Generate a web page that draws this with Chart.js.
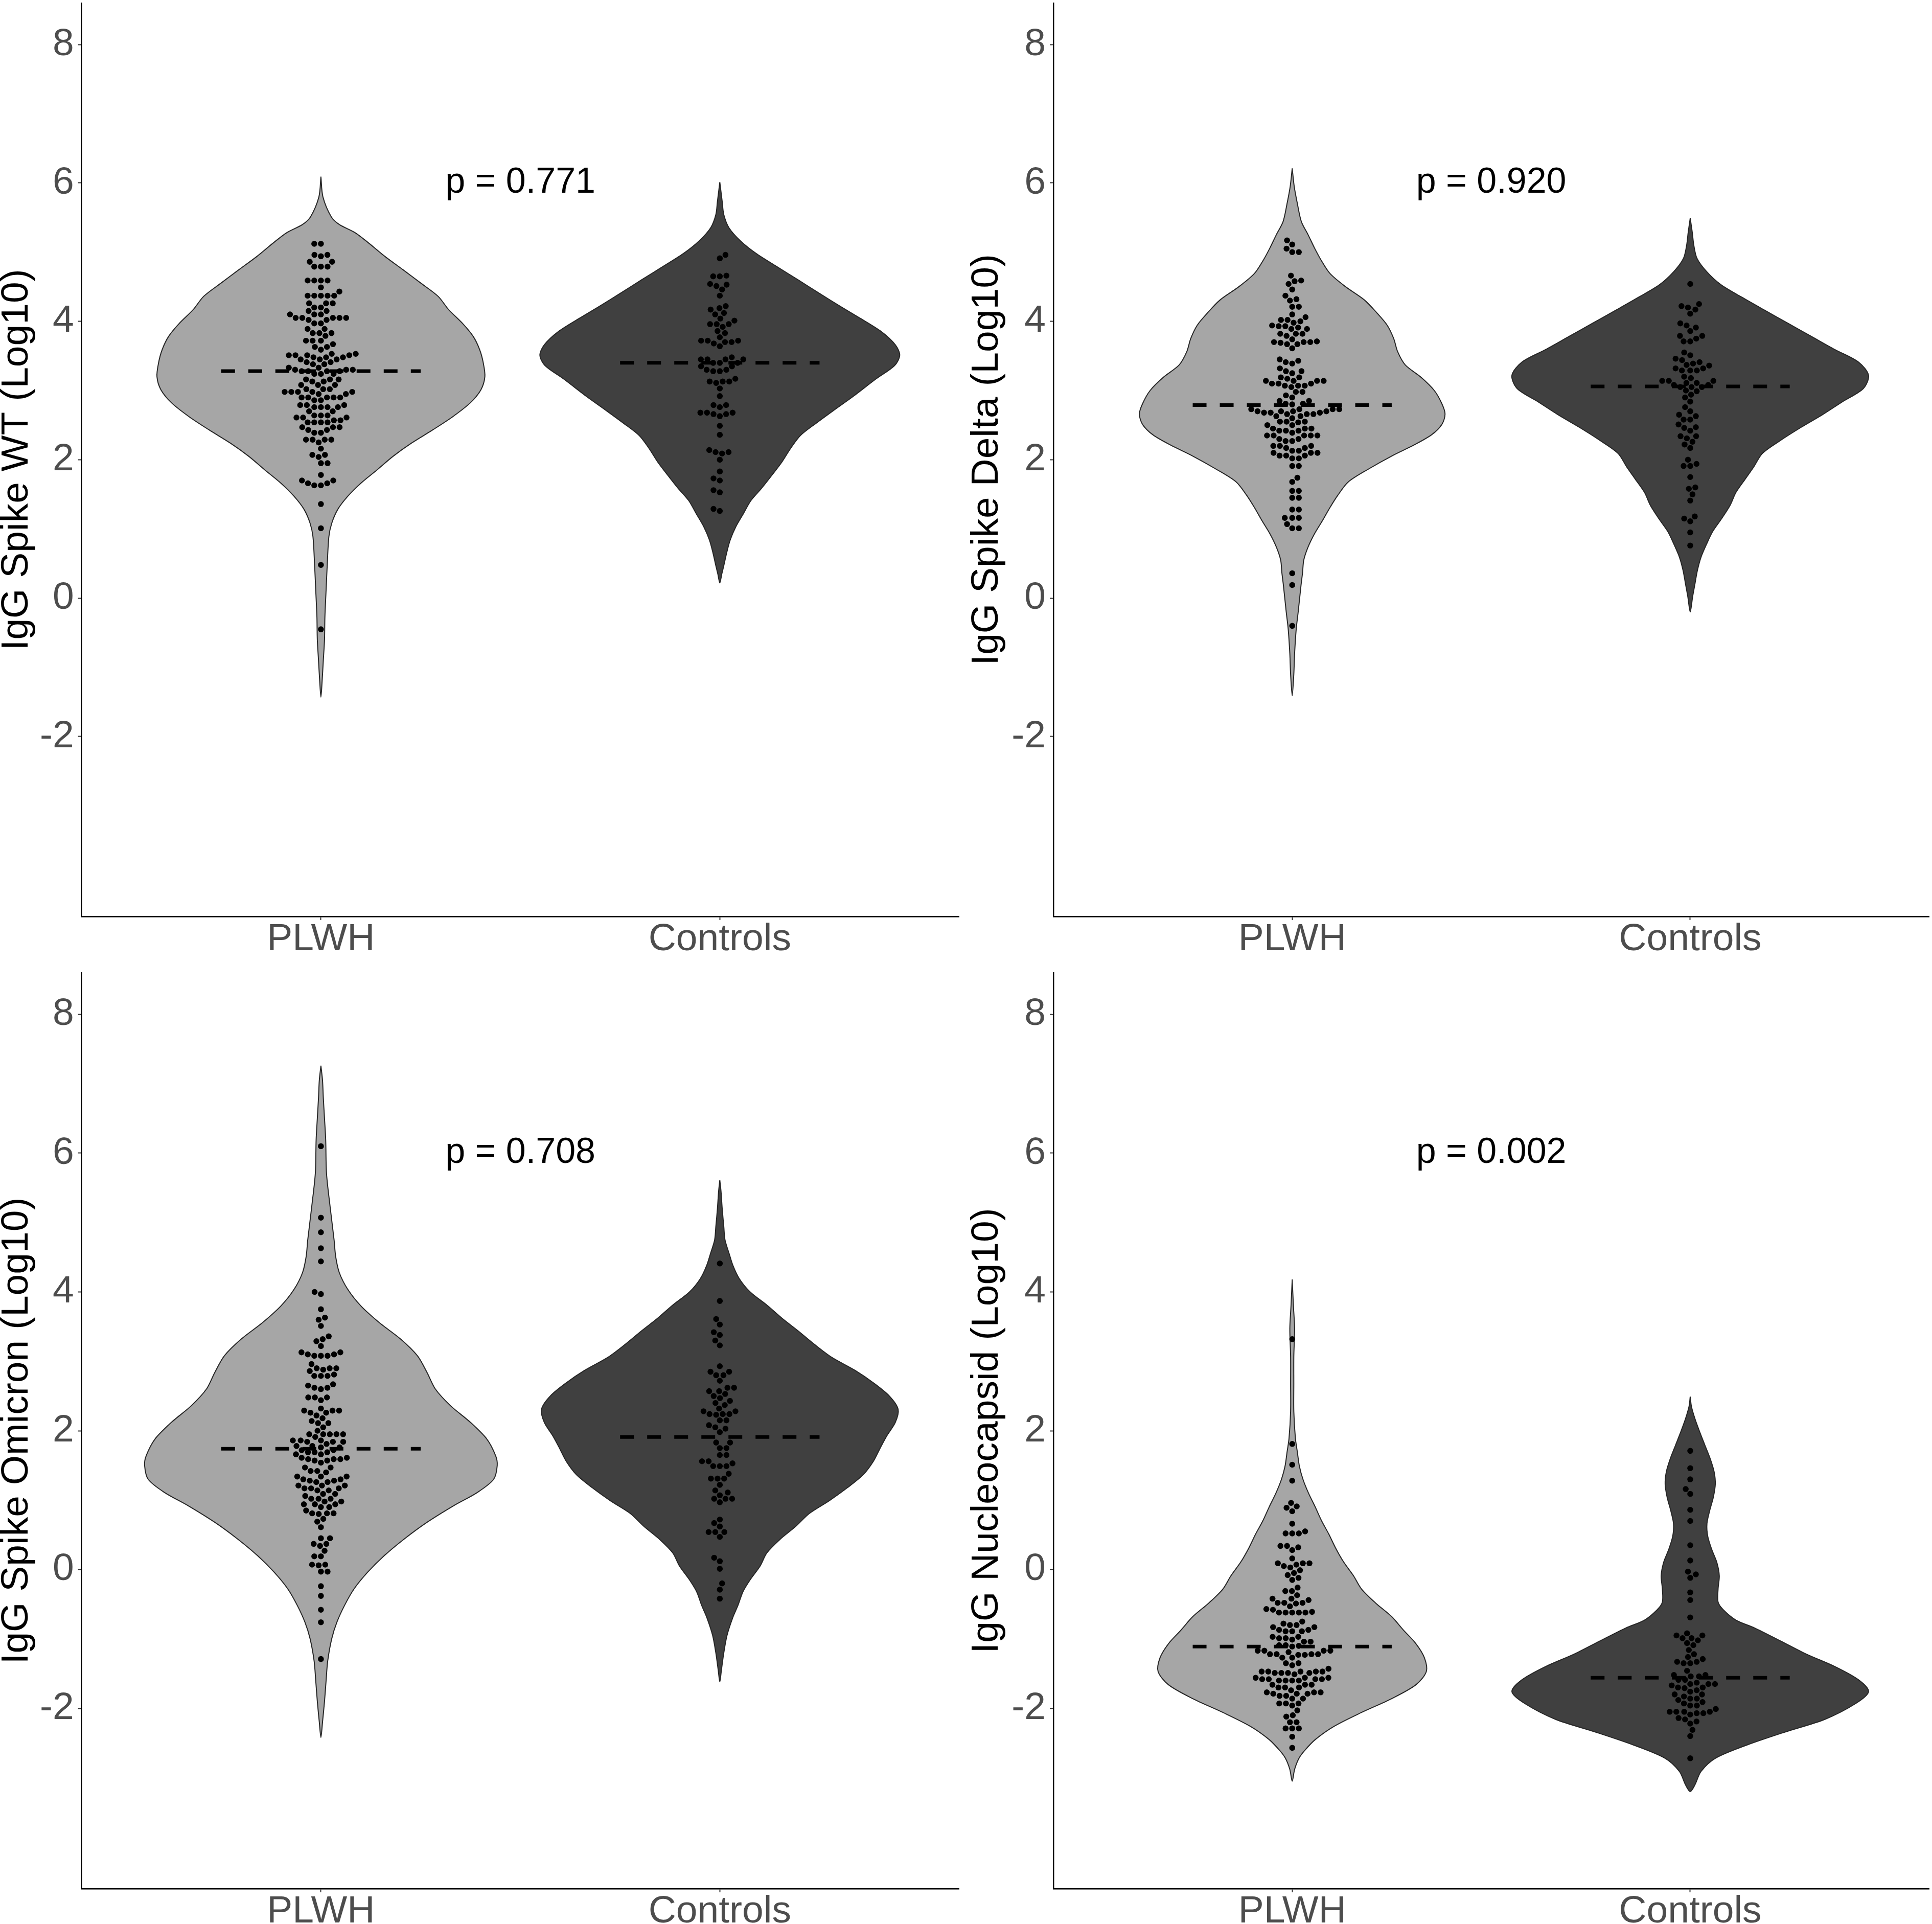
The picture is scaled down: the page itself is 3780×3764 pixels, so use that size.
<!DOCTYPE html>
<html>
<head>
<meta charset="utf-8">
<script src="https://cdn.jsdelivr.net/npm/chart.js@4.4.1/dist/chart.umd.min.js"></script>
<style>
html,body{margin:0;padding:0;background:#fff;}
#wrap{position:relative;width:3780px;height:3764px;overflow:hidden;background:#fff;}
canvas{position:absolute;display:block;}
</style>
</head>
<body>
<div id="wrap">
<canvas id="c0" width="1890" height="1890" style="left:0px;top:0px;width:1890px;height:1890px"></canvas>
<canvas id="c1" width="1890" height="1890" style="left:1890px;top:0px;width:1890px;height:1890px"></canvas>
<canvas id="c2" width="1890" height="1874" style="left:0px;top:1890px;width:1890px;height:1874px"></canvas>
<canvas id="c3" width="1890" height="1874" style="left:1890px;top:1890px;width:1890px;height:1874px"></canvas>
</div>
<script>
// ---------------- DATA ----------------
const categories = ['PLWH', 'Controls'];
const yTickValues = [-2, 0, 2, 4, 6, 8];
const yTitles = ['IgG Spike WT (Log10)', 'IgG Spike Delta (Log10)', 'IgG Spike Omicron (Log10)', 'IgG Nucleocapsid (Log10)'];
const pTexts = ['p = 0.771', 'p = 0.920', 'p = 0.708', 'p = 0.002'];
const pLabelX = 1.5;
const pLabelY = 6;
const mediansPLWH = [3.28, 2.79, 1.74, -1.11];
const mediansControls = [3.40, 3.06, 1.91, -1.56];

// individual observations (log10)
const wtPLWH = [5.12,5.12,4.96,4.96,4.94,4.86,4.86,4.79,4.79,4.79,4.59,4.59,4.59,4.59,4.49,4.43,4.37,4.37,4.37,4.37,4.37,
  4.26,4.26,4.26,4.20,4.20,4.15,4.15,4.10,4.10,4.10,4.05,4.05,4.05,4.05,4.05,4.02,4.02,3.97,3.97,3.89,3.89,3.83,3.83,3.83,
  3.79,3.72,3.72,3.72,3.67,3.63,3.63,3.59,3.53,3.53,3.51,3.51,3.51,3.51,3.48,3.48,3.48,3.45,3.45,3.45,3.41,3.41,3.38,3.38,
  3.33,3.33,3.30,3.30,3.30,3.28,3.28,3.28,3.28,3.24,3.24,3.24,3.16,3.16,3.16,3.13,3.13,3.08,3.08,3.08,3.02,3.02,3.02,
  2.98,2.98,2.98,2.98,2.98,2.95,2.95,2.90,2.90,2.90,2.90,2.90,2.86,2.86,2.79,2.79,2.79,2.76,2.76,2.76,2.76,2.70,2.70,
  2.64,2.64,2.64,2.61,2.61,2.61,2.57,2.57,2.54,2.54,2.54,2.54,2.47,2.47,2.47,2.43,2.43,2.39,2.39,2.29,2.29,2.29,2.29,
  2.25,2.16,2.07,2.07,2.04,1.95,1.95,1.78,1.70,1.70,1.66,1.66,1.63,1.63,1.36,1.01,0.48,-0.45];
const wtControls = [4.96,4.91,4.66,4.65,4.65,4.54,4.53,4.51,4.46,4.37,4.22,4.19,4.17,4.12,4.10,4.04,4.01,3.96,3.96,3.96,
  3.92,3.86,3.83,3.77,3.72,3.72,3.72,3.70,3.70,3.68,3.64,3.48,3.45,3.45,3.45,3.45,3.40,3.40,3.40,3.35,3.35,3.30,3.30,
  3.28,3.28,3.17,3.13,3.13,3.13,3.11,3.03,2.92,2.79,2.79,2.76,2.68,2.68,2.68,2.66,2.66,2.63,2.49,2.36,2.14,2.11,2.11,
  2.09,2.00,1.83,1.73,1.70,1.56,1.53,1.29,1.26];
const deltaPLWH = [5.17,5.11,5.05,5.00,5.00,4.66,4.59,4.58,4.54,4.46,4.37,4.32,4.30,4.21,4.21,4.10,4.06,4.02,4.02,4.00,3.98,
  3.94,3.93,3.93,3.91,3.89,3.89,3.82,3.82,3.82,3.79,3.74,3.71,3.70,3.70,3.70,3.69,3.67,3.67,3.61,3.45,3.43,3.41,3.39,
  3.32,3.28,3.28,3.25,3.19,3.19,3.17,3.14,3.14,3.14,3.14,3.10,3.10,3.10,3.07,3.07,3.07,3.05,2.98,2.98,2.93,2.90,2.85,2.85,
  2.81,2.81,2.80,2.73,2.73,2.73,2.73,2.70,2.70,2.70,2.70,2.68,2.68,2.68,2.66,2.66,2.66,2.63,2.63,2.60,2.55,2.55,2.55,2.54,
  2.50,2.50,2.45,2.45,2.45,2.42,2.42,2.42,2.39,2.35,2.35,2.35,2.35,2.35,2.30,2.30,2.27,2.27,2.20,2.20,2.20,2.17,2.17,
  2.13,2.13,2.10,2.10,2.10,2.06,2.06,2.06,2.02,2.02,1.91,1.91,1.74,1.68,1.55,1.55,1.45,1.45,1.28,1.28,1.16,1.16,1.16,
  1.07,1.01,1.01,0.36,0.19,-0.40];
const deltaControls = [4.54,4.25,4.22,4.20,4.17,4.11,3.97,3.94,3.91,3.86,3.79,3.79,3.75,3.71,3.71,3.55,3.51,3.46,3.44,
  3.41,3.39,3.37,3.36,3.32,3.32,3.29,3.29,3.29,3.20,3.18,3.14,3.14,3.14,3.11,3.11,3.08,3.08,3.05,3.05,3.05,3.00,2.99,
  2.94,2.90,2.84,2.76,2.70,2.65,2.63,2.58,2.58,2.51,2.47,2.46,2.42,2.34,2.34,2.31,2.26,2.22,2.17,2.00,1.94,1.91,1.91,
  1.75,1.60,1.58,1.50,1.41,1.18,1.15,1.11,0.95,0.76];
const omicronPLWH = [6.10,5.07,4.86,4.63,4.44,4.00,3.97,3.75,3.63,3.60,3.51,3.36,3.32,3.29,3.22,3.13,3.13,3.10,3.10,3.08,
  3.08,3.08,2.96,2.90,2.90,2.90,2.88,2.86,2.81,2.79,2.79,2.79,2.67,2.65,2.62,2.62,2.60,2.48,2.48,2.48,2.44,2.32,2.29,
  2.29,2.29,2.26,2.26,2.22,2.18,2.14,2.11,2.11,2.05,2.00,1.95,1.95,1.95,1.95,1.95,1.91,1.86,1.86,1.86,1.84,1.84,1.84,
  1.81,1.78,1.78,1.76,1.76,1.72,1.72,1.69,1.69,1.69,1.66,1.66,1.61,1.61,1.59,1.59,1.59,1.57,1.57,1.54,1.47,1.47,1.42,
  1.42,1.40,1.34,1.34,1.34,1.30,1.30,1.28,1.28,1.26,1.26,1.21,1.21,1.21,1.17,1.17,1.17,1.14,1.14,1.09,1.09,1.06,1.02,
  1.02,1.02,0.98,0.98,0.94,0.94,0.94,0.90,0.90,0.85,0.81,0.81,0.81,0.80,0.73,0.69,0.61,0.45,0.45,0.37,0.37,0.34,0.27,
  0.19,0.19,0.07,0.07,0.06,-0.03,-0.03,-0.24,-0.38,-0.58,-0.76,-1.29];
const omicronControls = [4.41,3.87,3.61,3.53,3.42,3.38,3.30,3.23,2.93,2.85,2.85,2.80,2.80,2.72,2.62,2.62,2.57,2.57,2.53,
  2.50,2.47,2.43,2.40,2.37,2.32,2.28,2.28,2.24,2.24,2.24,2.23,2.15,2.15,2.08,2.05,2.03,1.98,1.83,1.83,1.75,1.75,1.65,
  1.65,1.56,1.56,1.53,1.49,1.49,1.49,1.38,1.31,1.31,1.31,1.22,1.14,1.11,1.07,1.02,1.02,1.02,0.97,0.72,0.67,0.62,0.54,
  0.54,0.54,0.47,0.17,0.12,0.01,-0.20,-0.29,-0.42];
const ncPLWH = [3.32,1.81,1.51,1.28,0.96,0.91,0.89,0.84,0.66,0.55,0.52,0.52,0.52,0.34,0.34,0.32,0.28,0.16,0.09,0.09,0.09,
  0.07,0.05,0.03,-0.01,-0.05,-0.08,-0.12,-0.15,-0.26,-0.31,-0.31,-0.37,-0.42,-0.42,-0.44,-0.48,-0.48,-0.48,-0.49,-0.53,
  -0.57,-0.58,-0.61,-0.62,-0.62,-0.62,-0.62,-0.62,-0.75,-0.78,-0.80,-0.80,-0.83,-0.83,-0.87,-0.87,-0.89,-0.89,-0.89,
  -0.97,-0.97,-0.99,-0.99,-1.01,-1.04,-1.04,-1.09,-1.09,-1.10,-1.11,-1.17,-1.17,-1.17,-1.17,-1.19,-1.22,-1.22,-1.22,
  -1.22,-1.23,-1.23,-1.27,-1.27,-1.35,-1.35,-1.38,-1.43,-1.47,-1.47,-1.47,-1.47,-1.47,-1.49,-1.49,-1.49,-1.49,-1.51,
  -1.56,-1.56,-1.56,-1.58,-1.58,-1.58,-1.58,-1.60,-1.60,-1.60,-1.60,-1.66,-1.66,-1.66,-1.70,-1.70,-1.70,-1.74,-1.77,
  -1.77,-1.77,-1.79,-1.79,-1.79,-1.82,-1.82,-1.86,-1.86,-1.93,-1.93,-1.93,-1.96,-2.03,-2.10,-2.12,-2.20,-2.20,-2.29,
  -2.29,-2.29,-2.41,-2.57];
const ncControls = [1.71,1.46,1.30,1.16,1.09,0.86,0.70,0.35,0.13,-0.03,-0.07,-0.12,-0.33,-0.44,-0.69,-0.92,-0.95,-0.95,
  -0.99,-0.99,-1.02,-1.06,-1.09,-1.16,-1.22,-1.26,-1.29,-1.33,-1.33,-1.35,-1.35,-1.46,-1.52,-1.52,-1.54,-1.54,-1.59,
  -1.59,-1.63,-1.65,-1.65,-1.65,-1.67,-1.70,-1.70,-1.71,-1.74,-1.76,-1.80,-1.80,-1.83,-1.86,-1.86,-1.88,-1.91,-1.93,
  -1.96,-1.96,-2.01,-2.05,-2.05,-2.05,-2.05,-2.07,-2.07,-2.09,-2.14,-2.16,-2.19,-2.22,-2.31,-2.40,-2.72];

// violin outlines: level (log10) and half-width (x units)
const wtPLWH_vY = [6.09,5.80,5.51,5.40,5.28,5.13,4.94,4.74,4.55,4.36,4.17,3.97,3.78,3.59,3.40,3.20,3.01,2.82,2.62,2.43,2.24,2.05,1.85,1.66,1.47,1.28,1.08,0.89,0.50,0.12,-0.27,-0.60,-0.90,-1.20,-1.43];
const wtPLWH_vW = [0,0.005,0.026,0.046,0.086,0.120,0.160,0.207,0.251,0.294,0.320,0.355,0.382,0.398,0.407,0.411,0.401,0.374,0.330,0.280,0.227,0.181,0.140,0.100,0.067,0.042,0.027,0.020,0.016,0.013,0.010,0.009,0.006,0.003,0];
const wtCtrl_vY = [6.01,5.73,5.54,5.35,5.16,4.98,4.79,4.60,4.41,4.22,4.04,3.85,3.66,3.51,3.36,3.17,2.91,2.72,2.53,2.35,2.16,1.97,1.78,1.59,1.41,1.22,1.03,0.84,0.65,0.47,0.35,0.22];
const wtCtrl_vW = [0,0.006,0.010,0.023,0.052,0.091,0.143,0.196,0.248,0.301,0.353,0.405,0.440,0.451,0.438,0.392,0.333,0.287,0.242,0.202,0.177,0.156,0.131,0.105,0.078,0.059,0.040,0.026,0.017,0.010,0.005,0];
const deltaPLWH_vY = [6.21,5.95,5.70,5.44,5.25,5.06,4.88,4.69,4.50,4.31,4.12,3.94,3.75,3.56,3.37,3.19,3.00,2.81,2.66,2.51,2.36,2.21,2.06,1.87,1.68,1.49,1.31,1.12,0.93,0.74,0.55,0.37,0.18,-0.20,-0.45,-0.80,-1.10,-1.41];
const deltaPLWH_vW = [0,0.005,0.013,0.023,0.040,0.056,0.073,0.095,0.134,0.181,0.213,0.239,0.255,0.265,0.284,0.324,0.357,0.376,0.384,0.376,0.350,0.305,0.252,0.193,0.141,0.115,0.095,0.076,0.056,0.040,0.029,0.026,0.022,0.015,0.010,0.006,0.004,0];
const deltaCtrl_vY = [5.49,5.29,5.10,4.91,4.72,4.53,4.35,4.16,3.97,3.78,3.59,3.41,3.22,3.03,2.84,2.65,2.47,2.28,2.09,1.90,1.72,1.53,1.34,1.15,0.96,0.78,0.59,0.40,0.21,0.02,-0.20];
const deltaCtrl_vW = [0,0.005,0.009,0.017,0.041,0.077,0.129,0.187,0.246,0.305,0.364,0.423,0.448,0.435,0.383,0.332,0.279,0.227,0.181,0.160,0.138,0.115,0.100,0.079,0.056,0.041,0.027,0.018,0.012,0.006,0];
const omiPLWH_vY = [7.26,7.05,6.80,6.50,6.19,5.71,5.23,4.75,4.51,4.28,4.04,3.80,3.56,3.32,3.08,2.84,2.60,2.36,2.12,1.88,1.64,1.50,1.30,1.11,0.92,0.68,0.44,0.20,-0.04,-0.28,-0.52,-0.76,-1.00,-1.32,-1.60,-1.90,-2.20,-2.42];
const omiPLWH_vW = [0,0.004,0.006,0.009,0.012,0.014,0.023,0.033,0.037,0.046,0.067,0.100,0.146,0.200,0.242,0.266,0.287,0.325,0.375,0.416,0.438,0.442,0.433,0.392,0.333,0.266,0.209,0.159,0.117,0.083,0.059,0.040,0.027,0.017,0.013,0.009,0.004,0];
const omiCtrl_vY = [5.61,5.45,5.20,4.94,4.75,4.56,4.38,4.19,4.00,3.81,3.62,3.44,3.25,3.06,2.87,2.69,2.50,2.31,2.12,1.93,1.75,1.56,1.37,1.18,0.99,0.81,0.62,0.43,0.24,0.05,-0.14,-0.32,-0.51,-0.70,-0.95,-1.20,-1.45,-1.62];
const omiCtrl_vW = [0,0.003,0.006,0.010,0.013,0.023,0.033,0.049,0.076,0.118,0.156,0.196,0.236,0.280,0.339,0.385,0.425,0.447,0.440,0.419,0.402,0.385,0.360,0.320,0.274,0.225,0.190,0.150,0.118,0.101,0.077,0.058,0.046,0.032,0.018,0.010,0.004,0];
const ncPLWH_vY = [4.18,3.80,3.47,3.07,2.68,2.28,1.89,1.69,1.49,1.30,1.10,0.90,0.70,0.51,0.31,0.11,-0.09,-0.28,-0.48,-0.68,-0.87,-1.07,-1.27,-1.47,-1.66,-1.86,-2.06,-2.26,-2.45,-2.61,-2.72,-2.88,-3.05];
const ncPLWH_vW = [0,0.003,0.006,0.004,0.004,0.004,0.008,0.013,0.018,0.027,0.041,0.058,0.074,0.092,0.109,0.129,0.154,0.174,0.209,0.250,0.279,0.311,0.332,0.337,0.311,0.250,0.174,0.105,0.058,0.031,0.017,0.006,0];
const ncCtrl_vY = [2.49,2.35,2.17,1.98,1.79,1.60,1.41,1.23,1.04,0.85,0.66,0.48,0.29,0.10,-0.09,-0.28,-0.47,-0.58,-0.73,-0.84,-1.03,-1.22,-1.40,-1.59,-1.76,-1.93,-2.16,-2.34,-2.53,-2.72,-2.91,-3.10,-3.20];
const ncCtrl_vW = [0,0.003,0.012,0.024,0.037,0.050,0.060,0.063,0.058,0.049,0.042,0.044,0.054,0.067,0.073,0.070,0.070,0.083,0.115,0.161,0.227,0.292,0.364,0.423,0.448,0.416,0.338,0.239,0.142,0.063,0.027,0.012,0];

// ---------------- STYLE / LAYOUT ----------------
const FONT = '"Liberation Sans", Arimo, Arial, Helvetica, sans-serif';
const COL_PLWH = '#A6A6A6';
const COL_CTRL = '#404040';
const Y_MIN = -4.6, Y_MAX = 8.6, X_MIN = 0.4, X_MAX = 2.6;

const panels = [
  {id:'c0', plwh:wtPLWH, ctrl:wtControls, vp:[wtPLWH_vY, wtPLWH_vW], vc:[wtCtrl_vY, wtCtrl_vW],
   pad:{left:0, top:1, right:13.4, bottom:0}, yW:159.6, xH:97, titlePad:0},
  {id:'c1', plwh:deltaPLWH, ctrl:deltaControls, vp:[deltaPLWH_vY, deltaPLWH_vW], vc:[deltaCtrl_vY, deltaCtrl_vW],
   pad:{left:0, top:1, right:0.4, bottom:0}, yW:171, xH:97, titlePad:8},
  {id:'c2', plwh:omicronPLWH, ctrl:omicronControls, vp:[omiPLWH_vY, omiPLWH_vW], vc:[omiCtrl_vY, omiCtrl_vW],
   pad:{left:0, top:13, right:13.4, bottom:0}, yW:159.6, xH:69, titlePad:0},
  {id:'c3', plwh:ncPLWH, ctrl:ncControls, vp:[ncPLWH_vY, ncPLWH_vW], vc:[ncCtrl_vY, ncCtrl_vW],
   pad:{left:0, top:13, right:0.4, bottom:0}, yW:171, xH:69, titlePad:8}
];

// pixel scale of a panel's plot area (used only for the point-collision layout)
const PX_PER_X = 781.1;
const PX_PER_Y = 135.76;
const SWARM_SPACING = 13;

function swarmOffsets(values) {
  const order = values.map((v, i) => i).sort((a, b) => values[a] - values[b]);
  const placed = [];
  const out = new Array(values.length);
  const s2 = SWARM_SPACING * SWARM_SPACING;
  order.forEach((i, k) => {
    const y = values[i] * PX_PER_Y;
    const cands = [0];
    for (const p of placed) {
      const dy = Math.abs(p.y - y);
      if (dy < SWARM_SPACING) {
        const dx = Math.sqrt(s2 - dy * dy);
        cands.push(p.x + dx, p.x - dx);
      }
    }
    const pref = (k % 2 === 0) ? 1 : -1;
    cands.sort((a, b) => (Math.abs(a) - Math.abs(b)) || (pref * (b - a)));
    let best = 0;
    for (const c of cands) {
      let ok = true;
      for (const p of placed) {
        const ddx = p.x - c, ddy = p.y - y;
        if (ddx * ddx + ddy * ddy < s2 - 0.01) { ok = false; break; }
      }
      if (ok) { best = c; break; }
    }
    placed.push({x: best, y});
    out[i] = best / PX_PER_X;
  });
  return out;
}

function pointsData(center, values) {
  const off = swarmOffsets(values);
  return values.map((v, i) => ({x: center + off[i], y: v}));
}

function violinData(center, ys, ws) {
  const right = ys.map((y, i) => ({x: center + ws[i], y}));
  const left = ys.map((y, i) => ({x: center - ws[i], y})).reverse();
  return right.concat(left.slice(1));
}

function medianData(center, m) {
  return [{x: center - 0.25, y: m}, {x: center + 0.25, y: m}];
}

const pLabelPlugin = {
  id: 'pLabel',
  afterDatasetsDraw(chart, args, opts) {
    const {ctx} = chart;
    const xs = chart.scales.x, ys = chart.scales.y;
    ctx.save();
    ctx.font = '70px ' + FONT;
    ctx.fillStyle = '#000000';
    ctx.textAlign = 'center';
    ctx.textBaseline = 'middle';
    ctx.fillText(opts.text, xs.getPixelForValue(opts.x), ys.getPixelForValue(opts.y));
    ctx.restore();
  }
};

function build() {
  panels.forEach((P, pi) => {
    const violinStyle = (col) => ({
      showLine: true, fill: 'shape', tension: 0.3, pointRadius: 0, pointHoverRadius: 0,
      borderWidth: 2, borderColor: '#262626', backgroundColor: col, order: 3
    });
    const medStyle = {
      showLine: true, fill: false, pointRadius: 0, pointHoverRadius: 0, borderWidth: 7,
      borderColor: '#000000', borderDash: [27, 26], borderCapStyle: 'butt', order: 2
    };
    const ptStyle = {
      showLine: false, pointRadius: 5.8, pointHoverRadius: 5.8, pointBorderWidth: 0,
      pointBackgroundColor: '#000000', backgroundColor: '#000000', borderColor: '#000000', order: 1
    };
    new Chart(document.getElementById(P.id), {
      type: 'scatter',
      data: {
        datasets: [
          Object.assign({label: 'PLWH violin', data: violinData(1, P.vp[0], P.vp[1])}, violinStyle(COL_PLWH)),
          Object.assign({label: 'Controls violin', data: violinData(2, P.vc[0], P.vc[1])}, violinStyle(COL_CTRL)),
          Object.assign({label: 'PLWH median', data: medianData(1, mediansPLWH[pi])}, medStyle),
          Object.assign({label: 'Controls median', data: medianData(2, mediansControls[pi])}, medStyle),
          Object.assign({label: 'PLWH', data: pointsData(1, P.plwh)}, ptStyle),
          Object.assign({label: 'Controls', data: pointsData(2, P.ctrl)}, ptStyle)
        ]
      },
      options: {
        responsive: false,
        animation: false,
        devicePixelRatio: 1,
        events: [],
        layout: {padding: P.pad},
        plugins: {
          legend: {display: false},
          tooltip: {enabled: false},
          pLabel: {text: pTexts[pi], x: pLabelX, y: pLabelY}
        },
        scales: {
          x: {
            type: 'linear', min: X_MIN, max: X_MAX,
            afterBuildTicks: (s) => { s.ticks = categories.map((c, i) => ({value: i + 1})); },
            afterFit: (s) => { s.height = P.xH; s.paddingLeft = 0; s.paddingRight = 0; },
            ticks: {
              callback: (v) => categories[Math.round(v) - 1],
              font: {family: FONT, size: 75, lineHeight: 0.8},
              color: '#4D4D4D', padding: 8, maxRotation: 0, minRotation: 0, autoSkip: false
            },
            grid: {display: true, drawOnChartArea: false, drawTicks: true, tickLength: 7, tickWidth: 2,
                   color: '#333333', tickColor: '#333333'},
            border: {display: true, color: '#000000', width: 2.5}
          },
          y: {
            type: 'linear', min: Y_MIN, max: Y_MAX,
            afterBuildTicks: (s) => { s.ticks = yTickValues.map(v => ({value: v})); },
            afterFit: (s) => { s.width = P.yW; s.paddingTop = 0; s.paddingBottom = 0; },
            ticks: {
              callback: (v) => String(v),
              font: {family: FONT, size: 75, lineHeight: 1.0},
              color: '#4D4D4D', padding: 8, autoSkip: false
            },
            grid: {display: true, drawOnChartArea: false, drawTicks: true, tickLength: 7, tickWidth: 2,
                   color: '#333333', tickColor: '#333333'},
            border: {display: true, color: '#000000', width: 2.5},
            title: {
              display: true, text: yTitles[pi], color: '#000000',
              font: {family: FONT, size: 75, lineHeight: 0.9},
              padding: {top: P.titlePad, bottom: 0}
            }
          }
        }
      },
      plugins: [pLabelPlugin]
    });
  });
}

if (document.fonts && document.fonts.load) {
  Promise.all([document.fonts.load('75px "Liberation Sans"'), document.fonts.load('70px "Liberation Sans"')])
    .then(build, build);
} else {
  build();
}
</script>
</body>
</html>
